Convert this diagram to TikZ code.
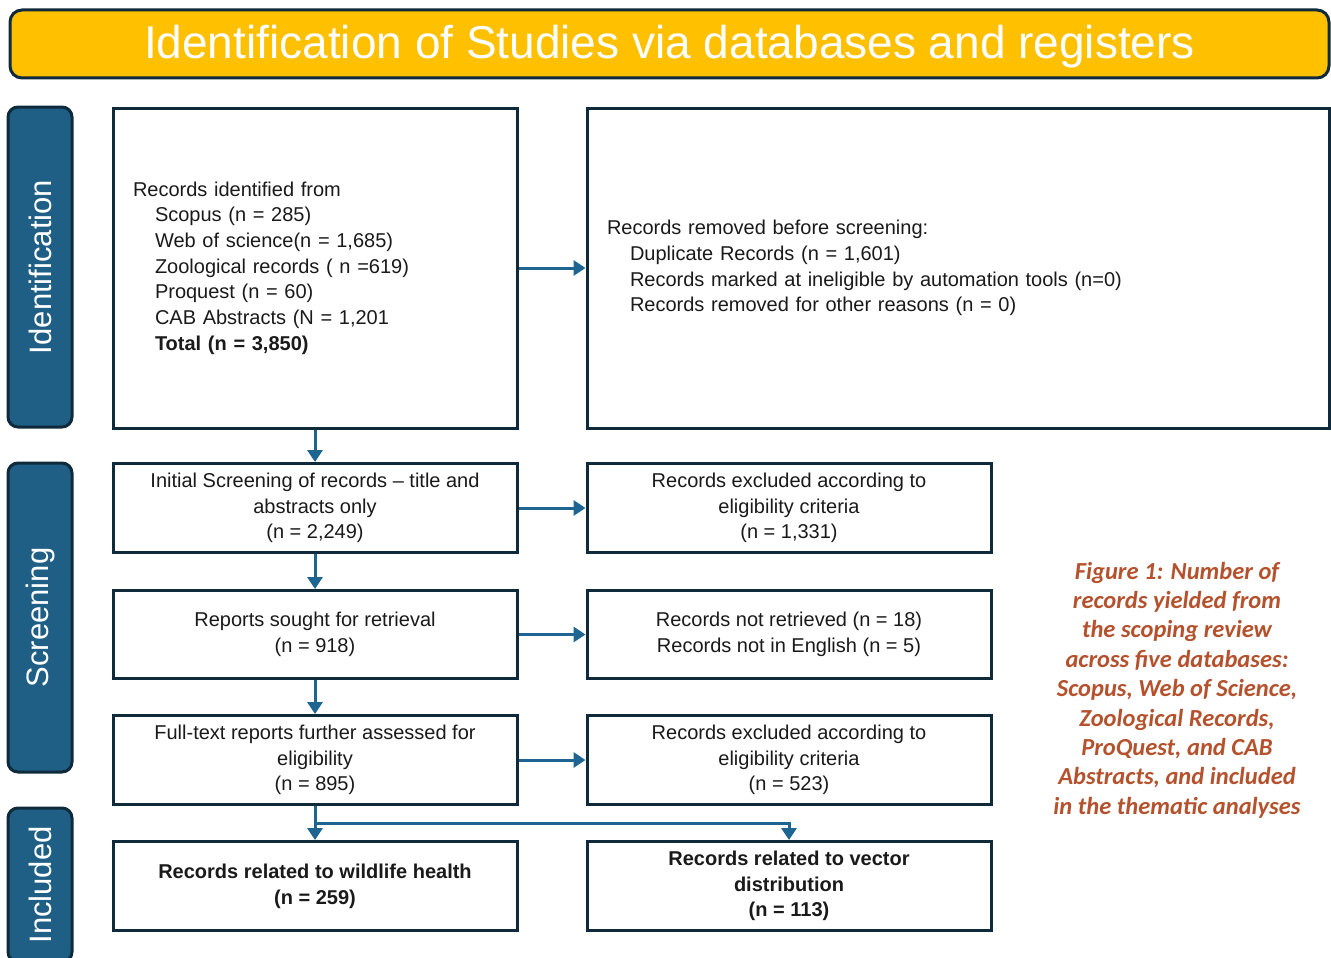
\documentclass[tikz,border=0pt]{standalone}
\usepackage{fontspec}
\setmainfont{Liberation Sans}
\newfontfamily\capfont{Carlito}
\usetikzlibrary{arrows.meta,calc}
\definecolor{navy}{HTML}{0E2A3B}
\definecolor{sideblue}{HTML}{1F5F86}
\definecolor{arrowblue}{HTML}{1F6592}
\definecolor{titleyellow}{HTML}{FFC000}
\definecolor{rust}{HTML}{B5522E}
\definecolor{ink}{HTML}{1A1A1A}
\begin{document}
\begin{tikzpicture}[x=1pt,y=-1pt,
  stagebox/.style={draw=navy, line width=3pt, fill=white, inner sep=0pt, align=center, text=ink,
    font=\fontsize{20}{25.7}\selectfont},
  leftbox/.style={stagebox, align=left, inner xsep=20pt, inner ysep=0pt},
  sidebox/.style={draw=navy, line width=3pt, fill=sideblue, rounded corners=10pt, rotate=90,
    text=white, font=\fontsize{31}{36}\selectfont, inner sep=0pt, minimum height=64pt},
  flow/.style={draw=arrowblue, line width=3pt, -{Triangle[length=12pt,width=15pt]}},
]
\useasboundingbox (0,0) rectangle (1331,958);

% title
\node[draw=navy, line width=3pt, fill=titleyellow, rounded corners=12pt, minimum width=1319pt,
  minimum height=68pt, inner sep=0pt, text height=38pt, text depth=8pt, text=white,
  font=\fontsize{46}{50}\selectfont]
  (title) at (669.5,44) {Identification of Studies via databases and registers};

% side labels
\node[sidebox, minimum width=320pt] (sid) at (40,267) {Identification};
\node[sidebox, minimum width=309pt] (sscr) at (40,617.5) {Screening};
\node[sidebox, minimum width=154pt] (sinc) at (40,885) {Included};

% identification
\node[leftbox, text width=364pt, minimum height=320pt] (b1) at (315,268)
  {Records identified from\\
   \hspace*{22pt}Scopus (n = 285)\\
   \hspace*{22pt}Web of science(n = 1,685)\\
   \hspace*{22pt}Zoological records ( n =619)\\
   \hspace*{22pt}Proquest (n = 60)\\
   \hspace*{22pt}CAB Abstracts (N = 1,201\\
   \hspace*{22pt}\textbf{Total (n = 3,850)}};
\node[leftbox, text width=702pt, minimum height=320pt] (b2) at (958,268)
  {Records removed before screening:\\
   \hspace*{23pt}Duplicate Records (n = 1,601)\\
   \hspace*{23pt}Records marked at ineligible by automation tools (n=0)\\
   \hspace*{23pt}Records removed for other reasons (n = 0)};

% screening
\node[stagebox, minimum width=404pt, minimum height=89pt] (r2l) at (315,508)
  {Initial Screening of records -- title and\\abstracts only\\(n = 2,249)};
\node[stagebox, minimum width=404pt, minimum height=89pt] (r2r) at (789,508)
  {Records excluded according to\\eligibility criteria\\(n = 1,331)};
\node[stagebox, minimum width=404pt, minimum height=88pt] (r3l) at (315,634.5)
  {Reports sought for retrieval\\(n = 918)};
\node[stagebox, minimum width=404pt, minimum height=88pt] (r3r) at (789,634.5)
  {Records not retrieved (n = 18)\\Records not in English (n = 5)};
\node[stagebox, minimum width=404pt, minimum height=89pt] (r4l) at (315,760)
  {Full-text reports further assessed for\\eligibility\\(n = 895)};
\node[stagebox, minimum width=404pt, minimum height=89pt] (r4r) at (789,760)
  {Records excluded according to\\eligibility criteria\\(n = 523)};

% included
\node[stagebox, minimum width=404pt, minimum height=89pt, font=\fontsize{20}{25.7}\selectfont\bfseries] (r5l) at (315,886)
  {Records related to wildlife health\\(n = 259)};
\node[stagebox, minimum width=404pt, minimum height=89pt, font=\fontsize{20}{25.7}\selectfont\bfseries] (r5r) at (789,886)
  {Records related to vector\\distribution\\(n = 113)};

% caption
\node[text=rust, align=center, font=\capfont\bfseries\itshape\fontsize{24.5}{29.4}\selectfont] (cap) at (1177,690)
  {Figure 1: Number of\\records yielded from\\the scoping review\\across five databases:\\Scopus, Web of Science,\\Zoological Records,\\ProQuest, and CAB\\Abstracts, and included\\in the thematic analyses};

% connectors
\draw[flow] (b1.east) -- (b2.west);
\draw[flow] (b1.south) -- (r2l.north);
\draw[flow] (r2l.east) -- (r2r.west);
\draw[flow] (r2l.south) -- (r3l.north);
\draw[flow] (r3l.east) -- (r3r.west);
\draw[flow] (r3l.south) -- (r4l.north);
\draw[flow] (r4l.east) -- (r4r.west);
\draw[flow] (r4l.south) -- (r5l.north);
\coordinate (br) at ($(r4l.south)!0.5!(r5l.north)$);
\draw[flow] (br) -| (r5r.north);
\end{tikzpicture}
\end{document}
